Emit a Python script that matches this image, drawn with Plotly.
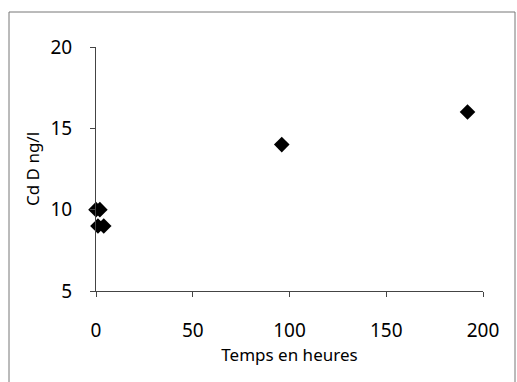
import plotly.graph_objects as go

hours = [0, 2, 1, 4, 96, 192]
cd_values = [10, 10, 9, 9, 14, 16]
x_ticks = [0, 50, 100, 150, 200]
y_ticks = [5, 10, 15, 20]

FONT = "Comic Sans MS, Noto Sans, DejaVu Sans, sans-serif"

fig = go.Figure()
fig.add_trace(go.Scatter(
    x=hours, y=cd_values, mode="markers",
    marker=dict(symbol="diamond", size=12, color="black"),
    cliponaxis=False, showlegend=False,
))

L, R, T, B = 96, 34, 47, 91
W, H = 517, 382
pw, ph = W - L - R, H - T - B

fig.update_layout(
    width=W, height=H,
    margin=dict(l=L, r=R, t=T, b=B),
    paper_bgcolor="white", plot_bgcolor="white",
    font=dict(family=FONT, color="black"),
    xaxis=dict(
        range=[0, 200], tickvals=x_ticks, showgrid=False, zeroline=False,
        showline=True, linecolor="#444", linewidth=1,
        ticks="outside", ticklen=5, tickcolor="#444", ticklabelstandoff=17,
        tickfont=dict(size=19), title=dict(text="Temps en heures", font=dict(size=17), standoff=4),
    ),
    yaxis=dict(
        range=[5, 20], tickvals=y_ticks, showgrid=False, zeroline=False,
        showline=True, linecolor="#444", linewidth=1,
        ticks="outside", ticklen=5, tickcolor="#444", ticklabelstandoff=14,
        tickfont=dict(size=19), title=dict(text="Cd D ng/l", font=dict(size=17), standoff=6),
    ),
    shapes=[dict(
        type="rect", xref="paper", yref="paper",
        x0=(9 - L) / pw, x1=(515 - L) / pw,
        y0=(291 - 400) / ph, y1=(291 - 12) / ph,
        line=dict(color="#777", width=1), layer="below",
    )],
)

fig.write_html("out.html")
